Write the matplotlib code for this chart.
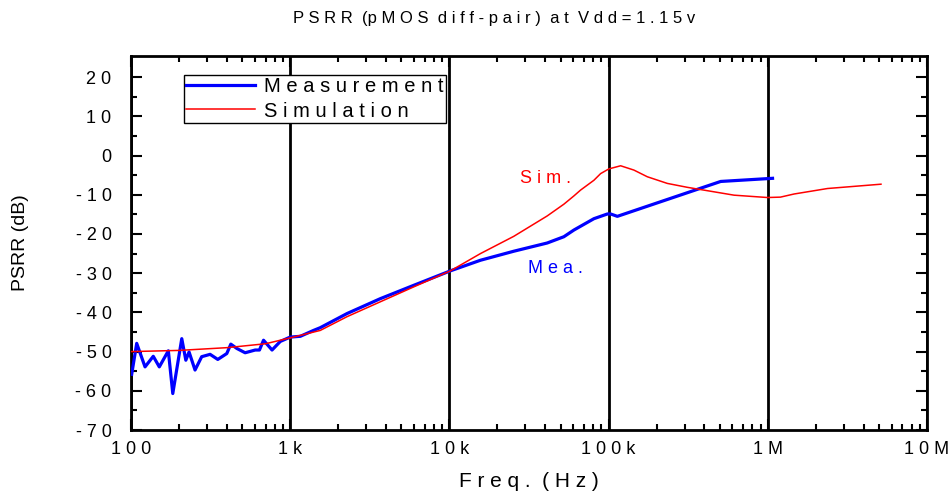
import matplotlib
matplotlib.use("Agg")
from matplotlib import pyplot as plt
from matplotlib.ticker import FixedLocator, LogLocator, NullFormatter

plt.rcParams['font.family'] = ['Liberation Sans', 'DejaVu Sans']

# measured PSRR (blue)
meas_freq = [101, 108.6, 122.5, 138, 150.6, 171.6, 183, 208.4, 221, 231.6, 252.5, 278,
             313.9, 350.9, 399.6, 423.6, 462.2, 521, 602.8, 641, 680, 769, 867, 1000,
             1158, 1401, 1545, 2274, 3681, 5965, 10150, 15670, 25370, 41140, 52360, 60500,
             80850, 98200, 103000, 113500, 506000, 1071000]
meas_db = [-55.8, -47.9, -53.9, -51.2, -53.9, -49.8, -60.7, -46.7, -52.2, -50.1, -54.7, -51.3,
           -50.7, -52.0, -50.5, -48.1, -49.2, -50.3, -49.6, -49.6, -47.1, -49.6, -47.4, -46.3,
           -46.1, -44.6, -43.9, -40.3, -36.5, -33.1, -29.4, -26.7, -24.4, -22.3, -20.7, -19.0,
           -16.1, -14.9, -14.9, -15.5, -6.6, -5.8]

# simulated PSRR (red)
sim_freq = [100, 200, 400, 700, 1000, 1545, 2274, 3681, 5965, 10150, 15670, 25370, 41140,
            52360, 60500, 66680, 80850, 89100, 100400, 119000, 144200, 175000, 233800,
            312500, 369800, 613700, 995000, 1200000, 1463000, 2373000, 5140000]
sim_db = [-50.0, -49.7, -49.0, -48.0, -46.5, -44.6, -41.1, -37.3, -33.5, -29.4, -25.0, -20.6, -15.4,
          -12.4, -10.3, -8.8, -6.3, -4.6, -3.4, -2.6, -3.7, -5.4, -7.1,
          -8.1, -8.6, -10.1, -10.7, -10.6, -9.8, -8.4, -7.3]

x_ticks = [1e2, 1e3, 1e4, 1e5, 1e6, 1e7]
x_labels = ["1 0 0", "1 k", "1 0 k", "1 0 0 k", "1 M", "1 0 M"]
y_ticks = [20, 10, 0, -10, -20, -30, -40, -50, -60, -70]
y_labels = ["2 0", "1 0", "0", "- 1 0", "- 2 0", "- 3 0", "- 4 0", "- 5 0", "- 6 0", "- 7 0"]

fig = plt.figure(figsize=(9.51, 4.96), dpi=100)
ax = fig.add_axes([131 / 951, 1 - 430 / 496, 796 / 951, 374 / 496])

ax.plot(meas_freq, meas_db, color='#0000ff', lw=2.3, label="M e a s u r e m e n t", zorder=3)
ax.plot(sim_freq, sim_db, color='#ff0000', lw=1.1, label="S i m u l a t i o n", zorder=4)

ax.set_xscale('log')
ax.set_xlim(100, 1e7)
ax.set_ylim(-70, 25.4)
ax.xaxis.set_major_locator(FixedLocator(x_ticks))
ax.set_xticklabels(x_labels)
ax.xaxis.set_minor_locator(LogLocator(base=10, subs=range(2, 10)))
ax.xaxis.set_minor_formatter(NullFormatter())
ax.yaxis.set_major_locator(FixedLocator(y_ticks))
ax.set_yticklabels(y_labels)
ax.yaxis.set_minor_locator(FixedLocator(range(-65, 25, 10)))

ax.grid(which='major', axis='x', color='black', lw=2)
ax.tick_params(which='both', direction='in', top=True, right=True, width=1.5, labelsize=13)
ax.tick_params(which='major', length=8)
ax.tick_params(which='minor', length=4)
ax.tick_params(axis='x', which='major', pad=8)
ax.tick_params(axis='y', which='major', pad=14)
for s in ax.spines.values():
    s.set_linewidth(2)

ax.text(4.0e4, -5.8, "S i m .", color='#ff0000', fontsize=13, ha='center', va='center')
ax.text(4.64e4, -28.7, "M e a .", color='#0000ff', fontsize=13, ha='center', va='center')

ax.set_xlabel("F r e q .  ( H z )", fontsize=15, labelpad=10)
ax.set_ylabel("PSRR (dB)", fontsize=14)
ax.yaxis.set_label_coords(-0.128, 0.5)
fig.text(494 / 951, 1 - 18 / 496, "P S R R  (p M O S  d i f f - p a i r )  a t  V d d = 1 . 1 5 v",
         ha='center', va='center', fontsize=12)

leg = ax.legend(loc='upper left', bbox_to_anchor=(0.0666, 0.949), borderaxespad=0,
                fancybox=False, edgecolor='black', framealpha=1, fontsize=14.5,
                handlelength=3.4, borderpad=0.12, labelspacing=0.25, handletextpad=0.45)
leg.get_frame().set_linewidth(1)

fig.savefig("out.png", dpi=100)
